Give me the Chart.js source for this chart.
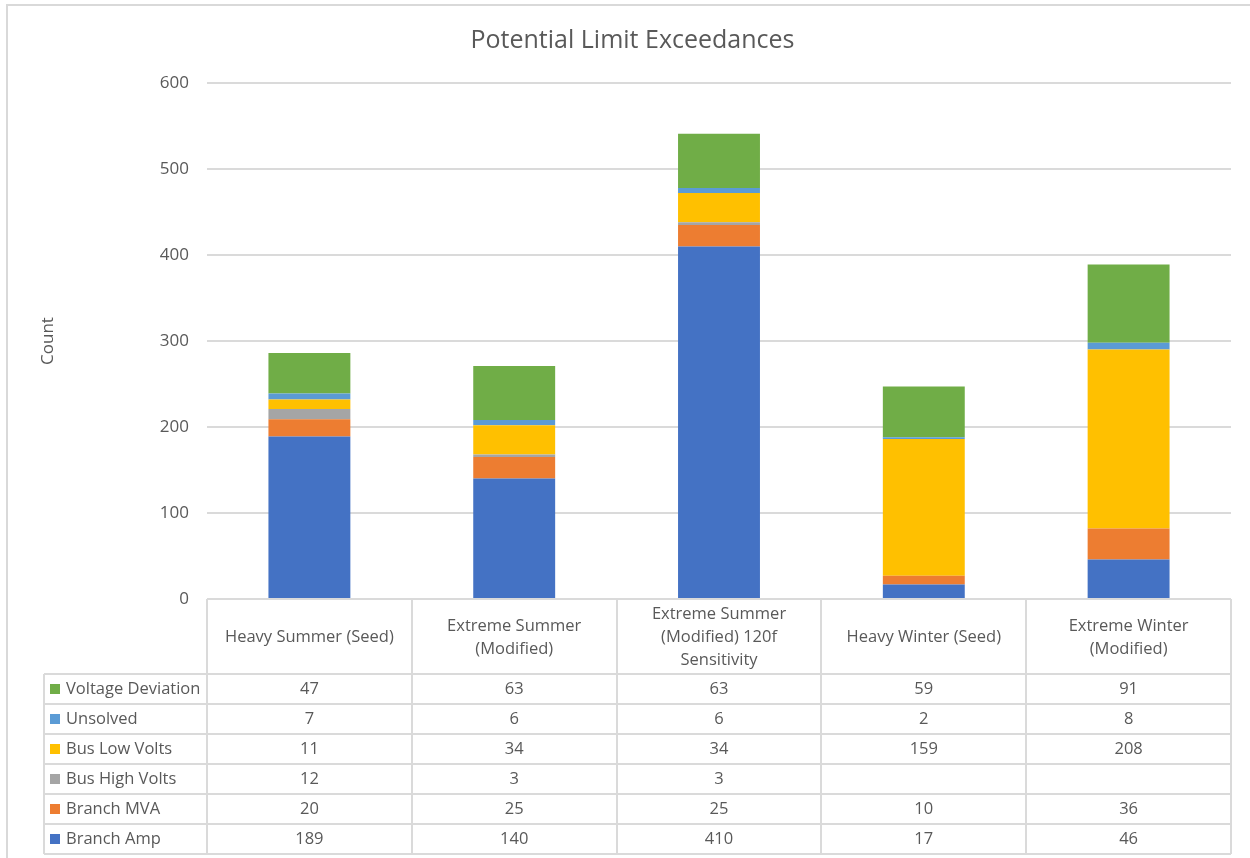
<!DOCTYPE html>
<html>
<head>
<meta charset="utf-8">
<title>Potential Limit Exceedances</title>
<script src="https://cdn.jsdelivr.net/npm/chart.js@4.4.1/dist/chart.umd.min.js"></script>
<style>
  html, body { margin: 0; padding: 0; background: #ffffff; }
  canvas { display: block; }
</style>
</head>
<body>
<canvas id="chart" width="1250" height="858"></canvas>
<script>
// Study cases (multi-line header text for the data table)
const categories = [
  ['Heavy Summer (Seed)'],
  ['Extreme Summer', '(Modified)'],
  ['Extreme Summer', '(Modified) 120f', 'Sensitivity'],
  ['Heavy Winter (Seed)'],
  ['Extreme Winter', '(Modified)']
];

// Counts per exceedance type, stacked bottom to top
const branchAmp        = [189, 140, 410, 17, 46];
const branchMva        = [20, 25, 25, 10, 36];
const busHighVolts     = [12, 3, 3, null, null];
const busLowVolts      = [11, 34, 34, 159, 208];
const unsolved         = [7, 6, 6, 2, 8];
const voltageDeviation = [47, 63, 63, 59, 91];

const seriesNames  = ['Branch Amp', 'Branch MVA', 'Bus High Volts', 'Bus Low Volts', 'Unsolved', 'Voltage Deviation'];
const seriesValues = [branchAmp, branchMva, busHighVolts, busLowVolts, unsolved, voltageDeviation];
const seriesColors = ['#4472C4', '#ED7D31', '#A5A5A5', '#FFC000', '#5B9BD5', '#70AD47'];

const yTicks = { min: 0, max: 600, step: 100 };

const TEXT = '#595959';
const LINE = '#dadada';
const FONT = "'Open Sans', sans-serif";

Chart.defaults.font.family = FONT;
Chart.defaults.color = TEXT;

// Frame plus the data table drawn beneath the plot, aligned to the category scale
const dataTable = {
  id: 'dataTable',
  beforeDraw(chart) {
    const ctx = chart.ctx;
    ctx.save();
    ctx.fillStyle = '#ffffff';
    ctx.fillRect(0, 0, chart.width, chart.height);
    ctx.strokeStyle = '#d9d9d9';
    ctx.lineWidth = 2;
    ctx.beginPath();
    ctx.moveTo(7, chart.height);
    ctx.lineTo(7, 5);
    ctx.lineTo(chart.width, 5);
    ctx.stroke();
    ctx.restore();
  },
  afterDraw(chart) {
    const ctx = chart.ctx;
    const area = chart.chartArea;
    const xs = chart.scales.x;
    const n = chart.data.labels.length;
    const left = area.left, right = area.right;
    const top = Math.round(area.bottom);
    const colW = (right - left) / n;
    const headH = 75, rowH = 30, keyLeft = 44;
    const rows = chart.data.datasets.slice().reverse();
    const bottom = top + headH + rows.length * rowH;

    ctx.save();
    ctx.strokeStyle = LINE;
    ctx.lineWidth = 2;
    ctx.beginPath();
    // header top edge
    ctx.moveTo(left, top); ctx.lineTo(right, top);
    // column edges
    for (let i = 0; i <= n; i++) {
      const cx = Math.round(left + i * colW);
      ctx.moveTo(cx, top); ctx.lineTo(cx, bottom);
    }
    // row edges
    for (let r = 0; r <= rows.length; r++) {
      const y = top + headH + r * rowH;
      ctx.moveTo(keyLeft, y); ctx.lineTo(right, y);
    }
    ctx.moveTo(keyLeft, top + headH); ctx.lineTo(keyLeft, bottom);
    ctx.stroke();

    ctx.fillStyle = TEXT;
    ctx.font = '16.5px ' + FONT;
    ctx.textBaseline = 'middle';
    ctx.textAlign = 'center';

    // category headers
    const lineH = 23;
    chart.data.labels.forEach((lab, i) => {
      const lines = Array.isArray(lab) ? lab : [lab];
      const cx = xs.getPixelForValue(i);
      const cy = top + headH / 2 + 1;
      lines.forEach((t, k) => {
        ctx.fillText(t, cx, cy + (k - (lines.length - 1) / 2) * lineH);
      });
    });

    // series rows
    rows.forEach((ds, r) => {
      const cy = top + headH + r * rowH + rowH / 2;
      ctx.fillStyle = ds.backgroundColor;
      ctx.fillRect(50, cy - 5, 10, 10);
      ctx.fillStyle = TEXT;
      ctx.textAlign = 'left';
      ctx.fillText(ds.label, 66, cy);
      ctx.textAlign = 'center';
      ds.data.forEach((v, i) => {
        if (v === null || v === undefined) return;
        ctx.fillText(String(v), xs.getPixelForValue(i), cy);
      });
    });
    ctx.restore();
  }
};

new Chart(document.getElementById('chart'), {
  type: 'bar',
  data: {
    labels: categories,
    datasets: seriesNames.map((name, i) => ({
      label: name,
      data: seriesValues[i],
      backgroundColor: seriesColors[i],
      borderWidth: 0,
      categoryPercentage: 1.0,
      barPercentage: 0.4
    }))
  },
  options: {
    responsive: false,
    animation: false,
    devicePixelRatio: 1,
    layout: { padding: { top: 0, left: 34, right: 19, bottom: 259 } },
    plugins: {
      legend: { display: false },
      tooltip: { enabled: false },
      title: {
        display: true,
        text: 'Potential Limit Exceedances',
        color: TEXT,
        font: { size: 25, weight: 'normal', family: FONT, lineHeight: 1.2 },
        padding: { top: 26, bottom: 27 }
      }
    },
    scales: {
      x: {
        stacked: true,
        display: false
      },
      y: {
        stacked: true,
        min: yTicks.min,
        max: yTicks.max,
        border: { display: false },
        grid: { color: LINE, lineWidth: 2, drawTicks: false },
        ticks: { stepSize: yTicks.step, padding: 18, color: TEXT, font: { size: 17 } },
        title: {
          display: true,
          text: 'Count',
          color: TEXT,
          font: { size: 17, lineHeight: 1.2 },
          padding: { top: 4, bottom: 4 }
        },
        afterFit(scale) { scale.width = 173; }
      }
    }
  },
  plugins: [dataTable]
});
</script>
</body>
</html>
